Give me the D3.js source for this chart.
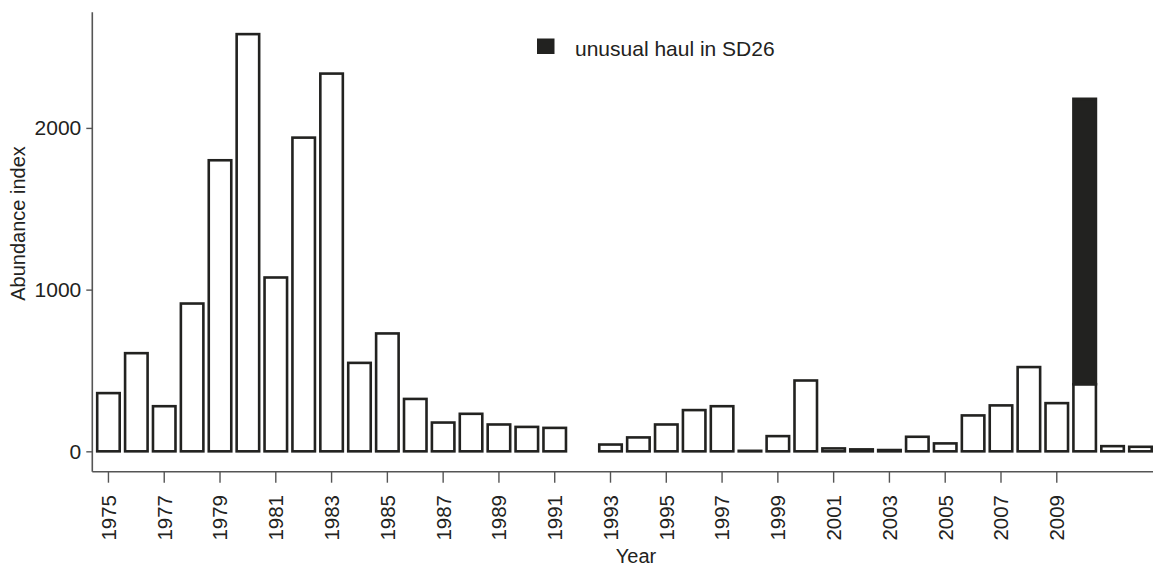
<!DOCTYPE html>
<html>
<head>
<meta charset="utf-8">
<script src="https://cdn.jsdelivr.net/npm/d3@7"></script>
<style>
  html, body { margin: 0; padding: 0; background: #fff; }
  svg { display: block; font-family: "Liberation Sans", Arial, sans-serif; }
</style>
</head>
<body>
<svg id="chart" width="1153" height="568"></svg>
<script>
// ---- data ----
const years = d3.range(1975, 2013);            // 1975 .. 2012 slots
const yearsWithData = [1975,1976,1977,1978,1979,1980,1981,1982,1983,1984,1985,1986,1987,1988,1989,1990,1991,
  1993,1994,1995,1996,1997,1998,1999,2000,2001,2002,2003,2004,2005,2006,2007,2008,2009,2010,2011,2012];
const abundance = [360,607,279,914,1800,2580,1075,1940,2336,547,729,324,178,232,166,151,145,
  42,86,166,255,279,3,94,438,18,12,8,90,49,222,284,521,298,415,32,28];
const unusualHaulYears = [2010];
const unusualHaulValues = [1765];
const xTickYears = [1975,1977,1979,1981,1983,1985,1987,1989,1991,1993,1995,1997,1999,2001,2003,2005,2007,2009];
const yTicks = [0, 1000, 2000];
const legendLabel = "unusual haul in SD26";
const xTitle = "Year";
const yTitle = "Abundance index";

// ---- layout ----
const svg = d3.select("#chart");
const ink = "#222220";
const axisColor = "#555";
const sw = 2.6;

const x = d3.scaleBand().domain(years).range([94.5, 1154.4]).paddingInner(0.1).paddingOuter(0.05);
const y = d3.scaleLinear().domain([-126, 2715]).range([471.7, 12.3]);

// bars
const base = abundance.map((v, i) => ({year: yearsWithData[i], v}));
svg.append("g").selectAll("rect").data(base).join("rect")
  .attr("x", d => x(d.year) + sw / 2)
  .attr("width", x.bandwidth() - sw)
  .attr("y", d => y(d.v))
  .attr("height", d => y(0) - y(d.v))
  .attr("fill", "#fff")
  .attr("stroke", ink)
  .attr("stroke-width", sw);

// stacked unusual haul
const extra = unusualHaulValues.map((v, i) => {
  const yr = unusualHaulYears[i];
  const b = abundance[yearsWithData.indexOf(yr)];
  return {year: yr, lo: b, hi: b + v};
});
svg.append("g").selectAll("rect").data(extra).join("rect")
  .attr("x", d => x(d.year) + sw / 2)
  .attr("width", x.bandwidth() - sw)
  .attr("y", d => y(d.hi))
  .attr("height", d => y(d.lo) - y(d.hi))
  .attr("fill", ink)
  .attr("stroke", ink)
  .attr("stroke-width", sw);

// y axis
const yAxis = d3.axisLeft(y).tickValues(yTicks).tickFormat(d3.format("d"))
  .tickSize(6).tickPadding(5).tickSizeOuter(0);
const gy = svg.append("g").attr("transform", "translate(92.3,0)").call(yAxis);
gy.attr("font-size", null).attr("font-family", null);
gy.select(".domain").remove();
gy.selectAll(".tick line").attr("stroke", axisColor).attr("stroke-width", 1.4);
gy.selectAll(".tick text").attr("font-size", 21).attr("fill", ink);
svg.append("line").attr("x1", 92.3).attr("x2", 92.3).attr("y1", y.range()[1]).attr("y2", y.range()[0])
  .attr("stroke", axisColor).attr("stroke-width", 1.6);

// x axis
const xAxis = d3.axisBottom(x).tickValues(xTickYears).tickSize(11).tickSizeOuter(0);
const gx = svg.append("g").attr("transform", `translate(0,${y.range()[0]})`).call(xAxis);
gx.attr("font-size", null).attr("font-family", null);
gx.select(".domain").remove();
gx.selectAll(".tick line").attr("stroke", axisColor).attr("stroke-width", 1.4);
gx.selectAll(".tick text")
  .attr("font-size", 20.5).attr("fill", ink)
  .attr("text-anchor", "end")
  .attr("transform", "rotate(-90)")
  .attr("x", -23.3).attr("y", 0).attr("dy", "0.36em");
svg.append("line").attr("x1", 92.3).attr("x2", 1153).attr("y1", y.range()[0]).attr("y2", y.range()[0])
  .attr("stroke", axisColor).attr("stroke-width", 1.6);

// titles
svg.append("text").attr("x", 636).attr("y", 563).attr("text-anchor", "middle")
  .attr("font-size", 20).attr("fill", ink).text(xTitle);
svg.append("text").attr("transform", "translate(25,223.5) rotate(-90)").attr("text-anchor", "middle")
  .attr("font-size", 20).attr("fill", ink).text(yTitle);

// legend
svg.append("rect").attr("x", 537).attr("y", 38.5).attr("width", 17.5).attr("height", 15.5).attr("fill", ink);
svg.append("text").attr("x", 575).attr("y", 56).attr("font-size", 21).attr("fill", ink).text(legendLabel);
</script>
</body>
</html>
